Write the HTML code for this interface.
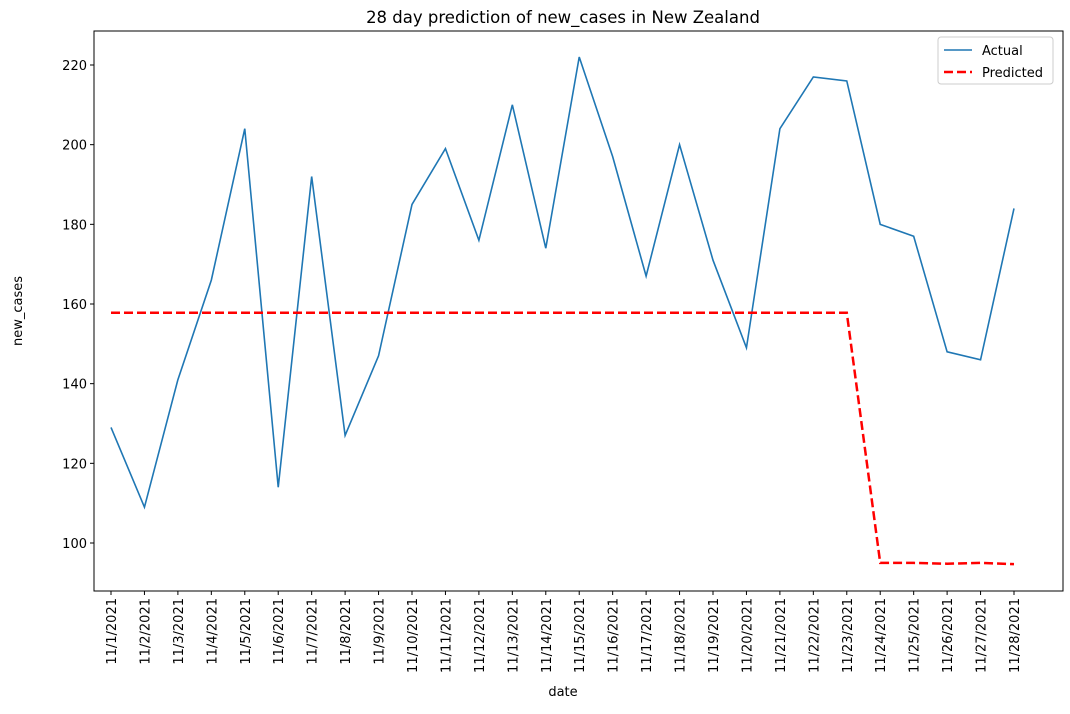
<!DOCTYPE html>
<html><head><meta charset="utf-8"><style>
body{margin:0;background:#fff;font-family:"Liberation Sans","DejaVu Sans",sans-serif;}
svg text{font-family:"DejaVu Sans","Liberation Sans",sans-serif;}
</style></head><body>
<svg id="chart" width="1070" height="709" xmlns="http://www.w3.org/2000/svg"></svg>
<script>
const categories=["11/1/2021","11/2/2021","11/3/2021","11/4/2021","11/5/2021","11/6/2021","11/7/2021","11/8/2021","11/9/2021","11/10/2021","11/11/2021","11/12/2021","11/13/2021","11/14/2021","11/15/2021","11/16/2021","11/17/2021","11/18/2021","11/19/2021","11/20/2021","11/21/2021","11/22/2021","11/23/2021","11/24/2021","11/25/2021","11/26/2021","11/27/2021","11/28/2021"];
const actual=[129,109,141,166,204,114,192,127,147,185,199,176,210,174,222,197,167,200,171,149,204,217,216,180,177,148,146,184];
const predicted=[157.8,157.8,157.8,157.8,157.8,157.8,157.8,157.8,157.8,157.8,157.8,157.8,157.8,157.8,157.8,157.8,157.8,157.8,157.8,157.8,157.8,157.8,157.8,95,95,94.8,95,94.7];
const yTicks=[100,120,140,160,180,200,220];

const svg=document.getElementById('chart');
const NS="http://www.w3.org/2000/svg";
const L=94,R=1063,T=31,B=591;
const x0=111,x1=1014;
const xS=i=>x0+(x1-x0)*i/(categories.length-1);
const yS=v=>543-(v-100)*(478/120);
function mk(tag,attrs,parent){const e=document.createElementNS(NS,tag);for(const k in attrs)e.setAttribute(k,attrs[k]);(parent||svg).appendChild(e);return e;}

const frame=mk('rect',{x:L,y:T,width:R-L,height:B-T,fill:'none',stroke:'#000','stroke-width':1});



yTicks.forEach(v=>{const y=yS(v);
 const t=mk('line',{x1:L-4,x2:L,y1:y,y2:y,stroke:'#000'});
 
 
 const tx=mk('text',{x:L-7,y:y+5,'text-anchor':'end','font-size':13});tx.textContent=v;
 
 
});
categories.forEach((c,i)=>{const x=xS(i);
 const t=mk('line',{x1:x,x2:x,y1:B,y2:B+4,stroke:'#000'});
 
 
 const tx=mk('text',{transform:`translate(${x+5},${B+7}) rotate(-90)`,'text-anchor':'end','font-size':13});tx.textContent=c;
 
 
});

const la=mk('polyline',{points:actual.map((v,i)=>xS(i)+','+yS(v)).join(' '),fill:'none',stroke:'#1f77b4','stroke-width':1.6});


const lp=mk('polyline',{points:predicted.map((v,i)=>xS(i)+','+yS(v)).join(' '),fill:'none',stroke:'#ff0000','stroke-width':2.5,'stroke-dasharray':'9,4'});



const title=mk('text',{x:563,y:23,'text-anchor':'middle','font-size':16.5});title.textContent='28 day prediction of new_cases in New Zealand';


const xt=mk('text',{x:563,y:696,'text-anchor':'middle','font-size':13});xt.textContent='date';


const yt=mk('text',{transform:'translate(22,311) rotate(-90)','text-anchor':'middle','font-size':13});yt.textContent='new_cases';



const lg=mk('g',{});


mk('rect',{x:938,y:37,width:115,height:47,rx:3,fill:'#fff',stroke:'#ccc'},lg);
mk('line',{x1:944,x2:972,y1:50,y2:50,stroke:'#1f77b4','stroke-width':1.6},lg);
const a=mk('text',{x:982,y:55,'font-size':13},lg);a.textContent='Actual';


mk('line',{x1:944,x2:972,y1:72,y2:72,stroke:'#ff0000','stroke-width':2.5,'stroke-dasharray':'9,4'},lg);
const p=mk('text',{x:982,y:77,'font-size':13},lg);p.textContent='Predicted';


</script>
</body></html>
